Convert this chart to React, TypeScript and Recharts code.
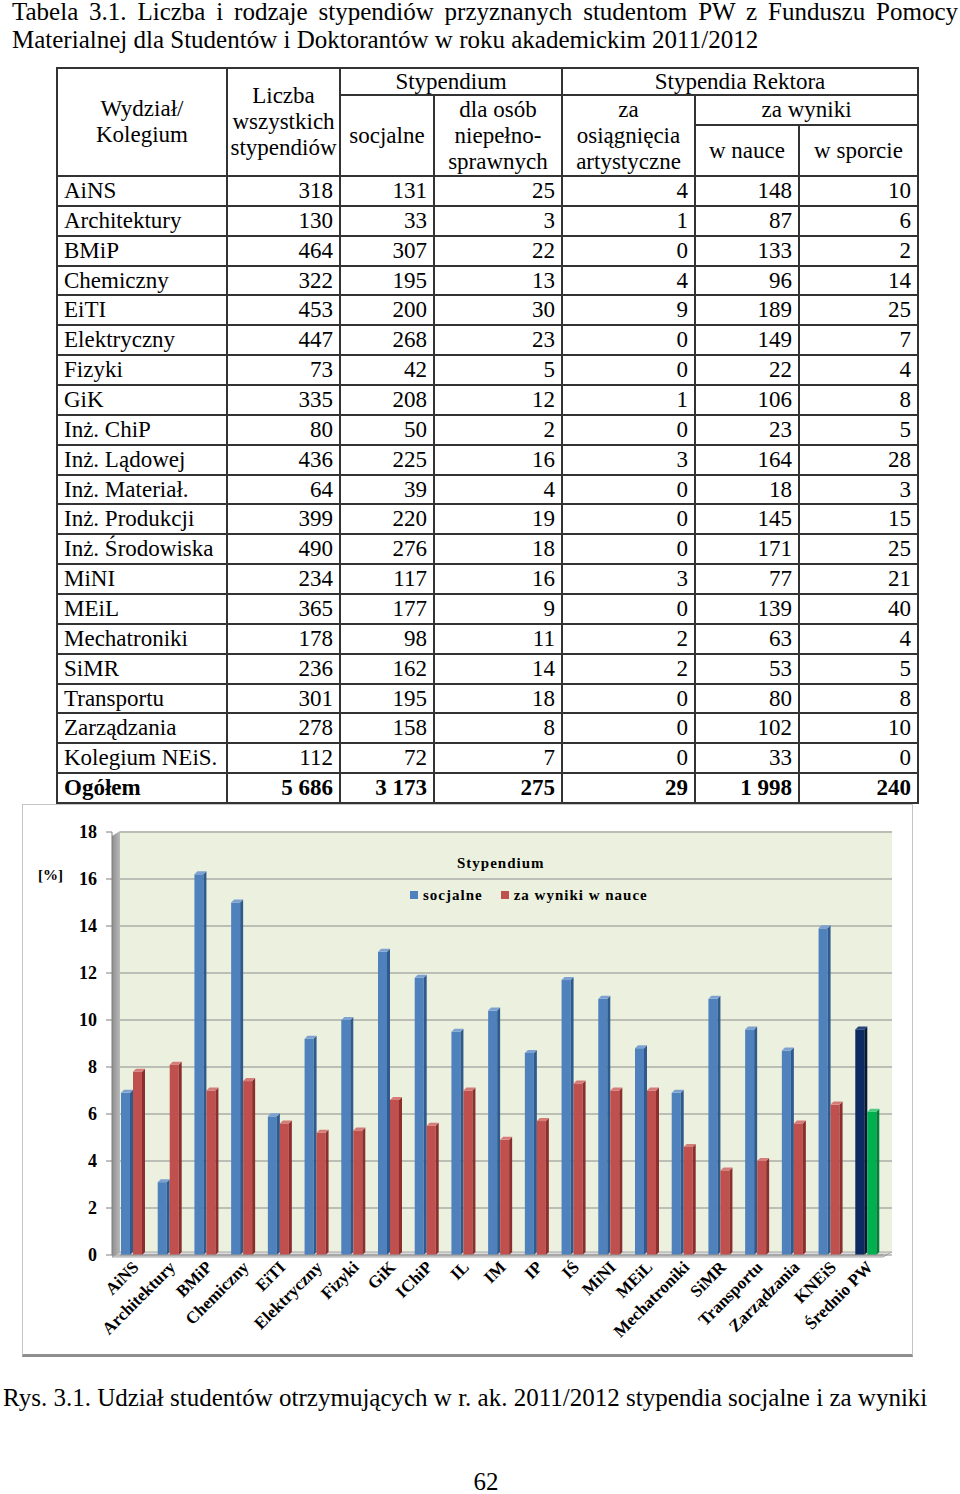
import React from "react";
import { Bar, BarChart, CartesianGrid, Legend, XAxis, YAxis } from "recharts";

const serif = '"Liberation Serif", "Times New Roman", serif';

// tabela 3.1
const wydzialy = [
  "AiNS", "Architektury", "BMiP", "Chemiczny", "EiTI", "Elektryczny", "Fizyki", "GiK",
  "Inż. ChiP", "Inż. Lądowej", "Inż. Materiał.", "Inż. Produkcji", "Inż. Środowiska",
  "MiNI", "MEiL", "Mechatroniki", "SiMR", "Transportu", "Zarządzania", "Kolegium NEiS.",
];
const liczbaWszystkich = [318, 130, 464, 322, 453, 447, 73, 335, 80, 436, 64, 399, 490, 234, 365, 178, 236, 301, 278, 112];
const socjalne = [131, 33, 307, 195, 200, 268, 42, 208, 50, 225, 39, 220, 276, 117, 177, 98, 162, 195, 158, 72];
const niepelnosprawni = [25, 3, 22, 13, 30, 23, 5, 12, 2, 16, 4, 19, 18, 16, 9, 11, 14, 18, 8, 7];
const artystyczne = [4, 1, 0, 4, 9, 0, 0, 1, 0, 3, 0, 0, 0, 3, 0, 2, 2, 0, 0, 0];
const wNauce = [148, 87, 133, 96, 189, 149, 22, 106, 23, 164, 18, 145, 171, 77, 139, 63, 53, 80, 102, 33];
const wSporcie = [10, 6, 2, 14, 25, 7, 4, 8, 5, 28, 3, 15, 25, 21, 40, 4, 5, 8, 10, 0];
const ogolem = [5686, 3173, 275, 29, 1998, 240];

// rys. 3.1
const kategorie = [
  "AiNS", "Architektury", "BMiP", "Chemiczny", "EiTI", "Elektryczny", "Fizyki", "GiK", "IChiP",
  "IL", "IM", "IP", "IŚ", "MiNI", "MEiL", "Mechatroniki", "SiMR", "Transportu", "Zarządzania",
  "KNEiS", "Średnio PW",
];
const socjalnePct = [6.9, 3.1, 16.2, 15.0, 5.9, 9.2, 10.0, 12.9, 11.8, 9.5, 10.4, 8.6, 11.7, 10.9, 8.8, 6.9, 10.9, 9.6, 8.7, 13.9, 9.6];
const naukaPct = [7.8, 8.1, 7.0, 7.4, 5.6, 5.2, 5.3, 6.6, 5.5, 7.0, 4.9, 5.7, 7.3, 7.0, 7.0, 4.6, 3.6, 4.0, 5.6, 6.4, 6.1];
const yTicks = [0, 2, 4, 6, 8, 10, 12, 14, 16, 18];

const chartData = kategorie.map((name, i) => ({ name, socjalne: socjalnePct[i], nauka: naukaPct[i] }));

const fmt = (n: number) => String(n).replace(/\B(?=(\d{3})+(?!\d))/g, " ");

const colX = [56, 226, 339, 433, 561, 694, 798, 917];
const rowH = 29.86;
const bodyTop = 175;

function Cell({ x1, x2, y1, y2, align = "center", bold = false, children }: any) {
  return (
    <div
      style={{
        position: "absolute", left: x1, top: y1, width: x2 - x1 + 2, height: y2 - y1 + 2,
        border: "2px solid #333", boxSizing: "border-box", display: "flex", alignItems: "center",
        justifyContent: align === "left" ? "flex-start" : align === "right" ? "flex-end" : "center",
        textAlign: "center", padding: "0 6px", fontSize: 23, lineHeight: "26px",
        fontWeight: bold ? "bold" : "normal",
      }}
    >
      <span>{children}</span>
    </div>
  );
}

function Tabela() {
  const cols = [liczbaWszystkich, socjalne, niepelnosprawni, artystyczne, wNauce, wSporcie];
  const rows = wydzialy.map((w, i) => {
    const y1 = bodyTop + i * rowH;
    return (
      <React.Fragment key={w}>
        <Cell x1={colX[0]} x2={colX[1]} y1={y1} y2={y1 + rowH} align="left">{w}</Cell>
        {cols.map((c, j) => (
          <Cell key={j} x1={colX[j + 1]} x2={colX[j + 2]} y1={y1} y2={y1 + rowH} align="right">{c[i]}</Cell>
        ))}
      </React.Fragment>
    );
  });
  const yT = bodyTop + wydzialy.length * rowH;
  return (
    <>
      <Cell x1={colX[0]} x2={colX[1]} y1={67} y2={175}>Wydział/<br />Kolegium</Cell>
      <Cell x1={colX[1]} x2={colX[2]} y1={67} y2={175}>Liczba<br />wszystkich<br />stypendiów</Cell>
      <Cell x1={colX[2]} x2={colX[4]} y1={67} y2={94}>Stypendium</Cell>
      <Cell x1={colX[4]} x2={colX[7]} y1={67} y2={94}>Stypendia Rektora</Cell>
      <Cell x1={colX[2]} x2={colX[3]} y1={94} y2={175}>socjalne</Cell>
      <Cell x1={colX[3]} x2={colX[4]} y1={94} y2={175}>dla osób<br />niepełno-<br />sprawnych</Cell>
      <Cell x1={colX[4]} x2={colX[5]} y1={94} y2={175}>za<br />osiągnięcia<br />artystyczne</Cell>
      <Cell x1={colX[5]} x2={colX[7]} y1={94} y2={124}>za wyniki</Cell>
      <Cell x1={colX[5]} x2={colX[6]} y1={124} y2={175}>w nauce</Cell>
      <Cell x1={colX[6]} x2={colX[7]} y1={124} y2={175}>w sporcie</Cell>
      {rows}
      <Cell x1={colX[0]} x2={colX[1]} y1={yT} y2={yT + rowH} align="left" bold>Ogółem</Cell>
      {ogolem.map((v, j) => (
        <Cell key={j} x1={colX[j + 1]} x2={colX[j + 2]} y1={yT} y2={yT + rowH} align="right" bold>{fmt(v)}</Cell>
      ))}
    </>
  );
}

const colors = {
  socjalne: { front: "#4F81BD", side: "#2F5A8E", top: "#7DA2D2" },
  nauka: { front: "#C0504D", side: "#8A2F2D", top: "#D57B78" },
  sredSocjalne: { front: "#0E2A62", side: "#06173A", top: "#2A4680" },
  sredNauka: { front: "#00B050", side: "#007F39", top: "#4CCB82" },
};

function makeBar(c: any, last: any) {
  return (props: any) => {
    const { x, y, width, height, index } = props;
    if (height == null || width == null) return null;
    const col = index === kategorie.length - 1 ? last : c;
    const d = 3;
    const x0 = x + 3;
    const w = width;
    return (
      <g>
        <rect x={x0} y={y} width={w - d} height={height} fill={col.front} />
        <polygon points={`${x0 + w - d},${y} ${x0 + w},${y - d} ${x0 + w},${y + height - d} ${x0 + w - d},${y + height}`} fill={col.side} />
        <polygon points={`${x0},${y} ${x0 + d},${y - d} ${x0 + w},${y - d} ${x0 + w - d},${y}`} fill={col.top} />
      </g>
    );
  };
}

function KatTick({ x, y, payload }: any) {
  return (
    <g transform={`translate(${x + 5},${y + 1})`}>
      <text x={0} y={0} dy={6} textAnchor="end" transform="rotate(-45)" fontSize={17} fontWeight="bold" fontFamily={serif} fill="#000">
        {payload.value}
      </text>
    </g>
  );
}

function Legenda({ payload }: any) {
  return (
    <div style={{ fontFamily: serif, fontWeight: "bold", fontSize: 15, color: "#000", letterSpacing: 1 }}>
      <div style={{ marginLeft: 54, height: 30, lineHeight: "30px" }}>Stypendium</div>
      <div style={{ display: "flex", alignItems: "center", marginLeft: 7, marginTop: 7, height: 20 }}>
        {(payload || []).map((p: any, i: number) => (
          <React.Fragment key={p.value}>
            <span style={{ display: "inline-block", width: 8, height: 8, background: p.color, marginLeft: i ? 18 : 0, marginRight: 5 }} />
            <span>{p.value}</span>
          </React.Fragment>
        ))}
      </div>
    </div>
  );
}

const CW = 889;
const CH = 550;

function Wykres() {
  return (
    <div style={{ position: "absolute", left: 23, top: 805, width: CW, height: CH }}>
      <svg width={CW} height={CH} style={{ position: "absolute", left: 0, top: 0 }}>
        <defs>
          <linearGradient id="sciana" x1="0" x2="1" y1="0" y2="0">
            <stop offset="0" stopColor="#8E8E8E" />
            <stop offset="1" stopColor="#B9B9B9" />
          </linearGradient>
        </defs>
        <rect x={97} y={26} width={772} height={421} fill="#EBF1DE" />
        <polygon points="89,31 97,26 97,447 89,452" fill="url(#sciana)" />
        <polygon points="89,452 97,447 869,447 860,452" fill="#DCDCDC" stroke="#A6A6A6" strokeWidth={1} />
      </svg>
      <div style={{ position: "absolute", left: 0, top: 0 }}>
        <BarChart width={CW} height={CH} data={chartData} margin={{ top: 27, right: 29, bottom: 0, left: 29 }} barGap={0} barCategoryGap={6}>
          <CartesianGrid vertical={false} x={97} width={772} stroke="#8C8C8C" strokeWidth={1.2} />
          <XAxis dataKey="name" interval={0} tickLine={false} axisLine={{ stroke: "#9A9A9A" }} tick={<KatTick />} height={100} />
          <YAxis
            domain={[0, 18]} ticks={yTicks} width={60} tickSize={6} tickMargin={9}
            axisLine={{ stroke: "#7F7F7F" }} tickLine={{ stroke: "#7F7F7F" }}
            tick={{ fill: "#000", fontSize: 18, fontWeight: "bold", fontFamily: serif }}
          />
          <Legend
            layout="horizontal" verticalAlign="middle" align="center"
            wrapperStyle={{ top: 43, left: 380, width: 300 }}
            content={<Legenda />}
          />
          <Bar dataKey="socjalne" name="socjalne" fill={colors.socjalne.front} shape={makeBar(colors.socjalne, colors.sredSocjalne)} isAnimationActive={false} />
          <Bar dataKey="nauka" name="za wyniki w nauce" fill={colors.nauka.front} shape={makeBar(colors.nauka, colors.sredNauka)} isAnimationActive={false} />
        </BarChart>
      </div>
      <div style={{ position: "absolute", left: 15, top: 62, fontFamily: serif, fontWeight: "bold", fontSize: 15 }}>[%]</div>
    </div>
  );
}

export default function App() {
  return (
    <div style={{ position: "absolute", left: 0, top: 0, width: 960, height: 1494, background: "#fff", fontFamily: serif, color: "#000" }}>
      <div style={{ position: "absolute", left: 12, top: -2, width: 946, fontSize: 25, lineHeight: "28px", textAlign: "justify", textAlignLast: "justify", whiteSpace: "nowrap" }}>
        Tabela 3.1. Liczba i rodzaje stypendiów przyznanych studentom PW z Funduszu Pomocy
      </div>
      <div style={{ position: "absolute", left: 12, top: 26, fontSize: 25, lineHeight: "28px", whiteSpace: "nowrap" }}>
        Materialnej dla Studentów i Doktorantów w roku akademickim 2011/2012
      </div>
      <Tabela />
      <div style={{ position: "absolute", left: 22, top: 804, width: 891, height: 553, border: "1px solid #C4C4C4", borderBottom: "3px solid #8E8E8E", boxSizing: "border-box" }} />
      <Wykres />
      <div style={{ position: "absolute", left: 3, top: 1384, fontSize: 25, lineHeight: "28px", whiteSpace: "nowrap" }}>
        Rys. 3.1. Udział studentów otrzymujących w r. ak. 2011/2012 stypendia socjalne i za wyniki
      </div>
      <div style={{ position: "absolute", left: 0, width: 972, top: 1468, fontSize: 25, lineHeight: "28px", textAlign: "center" }}>62</div>
    </div>
  );
}
